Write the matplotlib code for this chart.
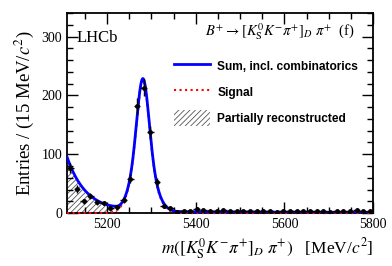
import numpy as np
import matplotlib
matplotlib.use("Agg")
import matplotlib.pyplot as plt
from matplotlib.patches import Patch
from matplotlib.lines import Line2D
from math import erfc

plt.rcParams['font.family'] = ['Liberation Serif', 'DejaVu Serif']
plt.rcParams['mathtext.fontset'] = 'stix'
plt.rcParams['hatch.linewidth'] = 0.6

# ---- data (15 MeV bins, 5110-5800) ----
bin_centers = [5117.5 + 15 * i for i in range(46)]
counts = [77, 41, 20, 29, 18, 17, 9, 10, 22, 58, 182, 213, 137, 53, 12,
          8, 2, 3, 4, 7, 5, 4, 4, 5, 3, 4, 3, 3, 4, 3, 3, 2, 4, 3, 3,
          3, 4, 3, 3, 2, 3, 4, 3, 5, 3, 4]

# ---- fit model parameters ----
sig_mean = 5281.0
sig_sigmas = [13.0, 24.0]
sig_heights = [130.0, 96.0]
prc_height = 92.0
prc_tau = 42.0
prc_cut = 5225.0
prc_cutw = 12.0
comb_height = 3.5
comb_tau = 600.0

x_range = [5110, 5800]
y_range = [0, 340]

m = np.linspace(x_range[0], x_range[1], 1200)
signal = sum(h * np.exp(-0.5 * ((m - sig_mean) / s) ** 2)
             for h, s in zip(sig_heights, sig_sigmas))
cut = np.array([0.5 * erfc((v - prc_cut) / prc_cutw) for v in m])
partreco = prc_height * np.exp(-(m - x_range[0]) / prc_tau) * cut
comb = comb_height * np.exp(-(m - x_range[0]) / comb_tau)
total = signal + partreco + comb

fig = plt.figure(figsize=(3.92, 2.66), dpi=100)
ax = fig.add_axes([0.171, 0.199, 0.781, 0.752])

ax.fill_between(m, 0, partreco, facecolor='none', edgecolor='#555555',
                hatch='//////', linewidth=0)
ax.plot(m, signal, color='red', linestyle=':', linewidth=1.5, clip_on=False, zorder=3)
ax.plot(m, total, color='#0000ff', linewidth=2, zorder=4)

cnt = np.array(counts, dtype=float)
ax.errorbar(bin_centers, cnt, xerr=7.5, yerr=np.sqrt(cnt), fmt='o',
            color='black', ms=2.5, elinewidth=1, capsize=0, zorder=5)

ax.set_xlim(x_range)
ax.set_ylim(y_range)
ax.set_xticks([5200, 5400, 5600, 5800])
ax.set_xticks(np.arange(5150, 5800, 50), minor=True)
ax.set_yticks([0, 100, 200, 300])
ax.set_yticks(np.arange(0, 341, 20), minor=True)
ax.tick_params(which='both', direction='in', top=True, right=True,
               labelsize=10, width=1)
ax.tick_params(which='major', length=8)
ax.tick_params(which='minor', length=4)
for s in ax.spines.values():
    s.set_linewidth(1.3)

ax.set_ylabel(r'Entries / (15 MeV/$c^2$)', fontsize=13.5)
ax.set_xlabel(r'$m([K^0_{\rm S}K^{-}\pi^{+}]_D\ \pi^{+})$   [MeV/$c^2$]',
              fontsize=12.5, loc='right')

ax.text(0.03, 0.875, 'LHCb', transform=ax.transAxes, fontsize=12,
        va='center', ha='left')
ax.text(0.94, 0.905, r'$B^{+}\rightarrow[K^0_{\rm S}K^{-}\pi^{+}]_D\ \pi^{+}$  (f)',
        transform=ax.transAxes, fontsize=10.5, va='center', ha='right')

handles = [Line2D([], [], color='#0000ff', lw=2),
           Line2D([], [], color='red', ls=':', lw=1.5),
           Patch(facecolor='none', edgecolor='#555555', hatch='//////', lw=0)]
labels = ['Sum, incl. combinatorics', 'Signal', 'Partially reconstructed']
leg = ax.legend(handles, labels, loc='upper left', bbox_to_anchor=(0.335, 0.80),
                frameon=False, handlelength=3.0, handleheight=1.8,
                handletextpad=0.6, labelspacing=0.75, borderaxespad=0,
                prop={'family': 'Liberation Sans', 'weight': 'bold', 'size': 8.6})

fig.savefig('out.png', dpi=100)
